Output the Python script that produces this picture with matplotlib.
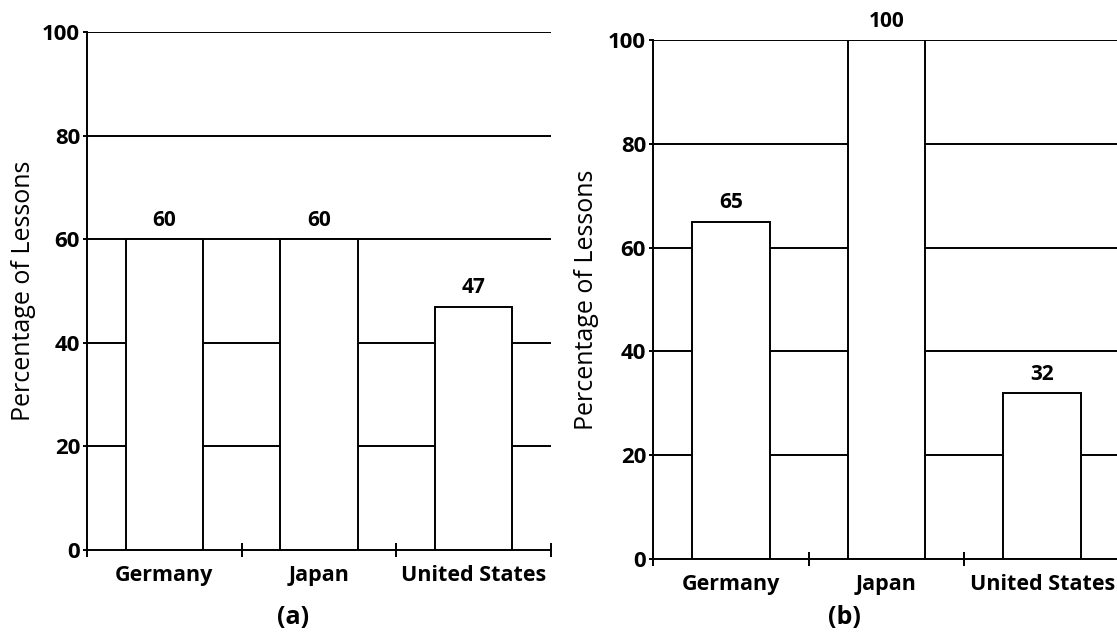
import matplotlib
matplotlib.use('Agg')
import matplotlib.pyplot as plt

countries = ['Germany', 'Japan', 'United States']
values_a = [60, 60, 47]
values_b = [65, 100, 32]
yticks = [0, 20, 40, 60, 80, 100]

plt.rcParams['font.family'] = ['Open Sans', 'DejaVu Sans']

fig = plt.figure(figsize=(11.17, 6.33), dpi=100)
ax_a = fig.add_axes([0.0779, 0.1311, 0.4154, 0.8183])
ax_b = fig.add_axes([0.5846, 0.1169, 0.4181, 0.8199])


def draw(ax, values, boundaries, label_x):
    x = range(len(countries))
    for y in yticks[1:]:
        ax.axhline(y, color='black', lw=1.4, zorder=1)
    bars = ax.bar(x, values, width=0.5, color='white', edgecolor='black',
                  lw=1.4, zorder=2)
    for b, v in zip(bars, values):
        ax.annotate(str(v), (b.get_x() + b.get_width() / 2, v),
                    xytext=(0, 6), textcoords='offset points',
                    ha='center', va='bottom', fontsize=15, fontweight='bold')
    ax.set_xlim(-0.5, 2.5)
    ax.set_ylim(0, 100)
    ax.set_yticks(yticks)
    ax.set_yticklabels([str(t) for t in yticks], fontsize=16, fontweight='bold')
    ax.set_xticks(list(x))
    ax.set_xticklabels(countries, fontsize=15.5, fontweight='bold')
    ax.set_xticks(boundaries, minor=True)
    ax.tick_params(axis='x', which='major', length=0, pad=11)
    ax.tick_params(axis='x', which='minor', direction='inout', length=10, width=1.4)
    ax.tick_params(axis='y', length=3, width=1.4, pad=2)
    for s in ['top', 'right']:
        ax.spines[s].set_visible(False)
    for s in ['left', 'bottom']:
        ax.spines[s].set_linewidth(1.4)
    ax.set_ylabel('Percentage of Lessons', fontsize=18)
    ax.yaxis.set_label_coords(label_x, 0.5)


draw(ax_a, values_a, [-0.5, 0.5, 1.5, 2.5], -0.11)
draw(ax_b, values_b, [-0.5, 0.5, 1.5], -0.116)

fig.text(293 / 1117, 1 - 618 / 633, '(a)', ha='center', va='center',
         fontsize=18, fontweight='bold')
fig.text(844 / 1117, 1 - 618 / 633, '(b)', ha='center', va='center',
         fontsize=18, fontweight='bold')

fig.savefig('out.png', dpi=100)
